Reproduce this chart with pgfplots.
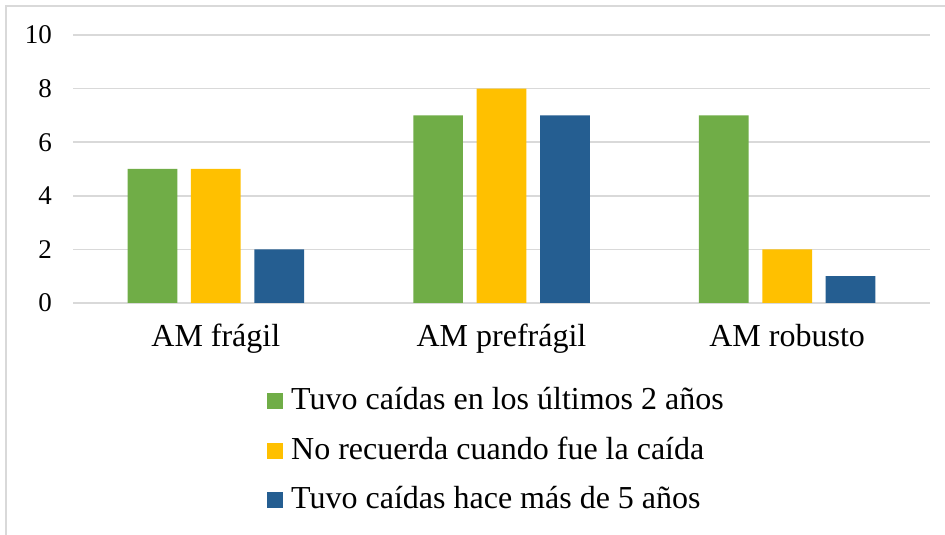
\documentclass[border=0pt]{standalone}
\usepackage{pgfplots}
\pgfplotsset{compat=1.18}
\usepackage{fontspec}
\setmainfont{Liberation Serif}
\definecolor{gridgray}{HTML}{D9D9D9}
\definecolor{cgreen}{HTML}{70AD47}
\definecolor{cyellow}{HTML}{FFC000}
\definecolor{cblue}{HTML}{255E91}
\begin{document}
\begin{tikzpicture}
\useasboundingbox (0pt,0pt) rectangle (945pt,535pt);
\fill[white] (0pt,0pt) rectangle (945pt,535pt);
\draw[gridgray, line width=1.5pt] (6pt,-2pt) -- (6pt,529pt) -- (947pt,529pt);
\begin{axis}[
  at={(73pt,232pt)}, anchor=south west,
  scale only axis, width=857pt, height=268pt,
  xmin=-0.5, xmax=2.5, ymin=0, ymax=10,
  ytick={0,2,4,6,8,10},
  xtick={0,1,2},
  xticklabels={AM frágil, AM prefrágil, AM robusto},
  major tick length=0pt,
  axis line style={draw=none},
  ymajorgrids, grid style={color=gridgray, line width=1.5pt},
  /pgf/number format/assume math mode=true,
  yticklabel style={font=\fontsize{27}{32}\selectfont, anchor=east, inner sep=0pt, xshift=-21pt},
  xticklabel style={font=\fontsize{32}{38}\selectfont, anchor=base, inner sep=0pt, yshift=-44pt},
  ybar, bar width=49.7pt,
  legend cell align=left,
  legend style={font=\fontsize{32}{38}\selectfont, draw=none, fill=none,
    nodes={inner xsep=8pt, inner ysep=0pt, text height=24pt, text depth=7pt},
    row sep=18.5pt,
    at={(axis description cs:0.2229,-0.30)}, anchor=north west, legend columns=1},
  legend image code/.code={\fill[#1] (0pt,-8pt) rectangle (16pt,8pt);},
]
\addplot[fill=cgreen, draw=none, bar shift=-63.4pt] coordinates {(0,5) (1,7) (2,7)};
\addlegendentry{Tuvo caídas en los últimos 2 años}
\addplot[fill=cyellow, draw=none, bar shift=0pt] coordinates {(0,5) (1,8) (2,2)};
\addlegendentry{No recuerda cuando fue la caída}
\addplot[fill=cblue, draw=none, bar shift=63.4pt] coordinates {(0,2) (1,7) (2,1)};
\addlegendentry{Tuvo caídas hace más de 5 años}
\end{axis}
\end{tikzpicture}
\end{document}
